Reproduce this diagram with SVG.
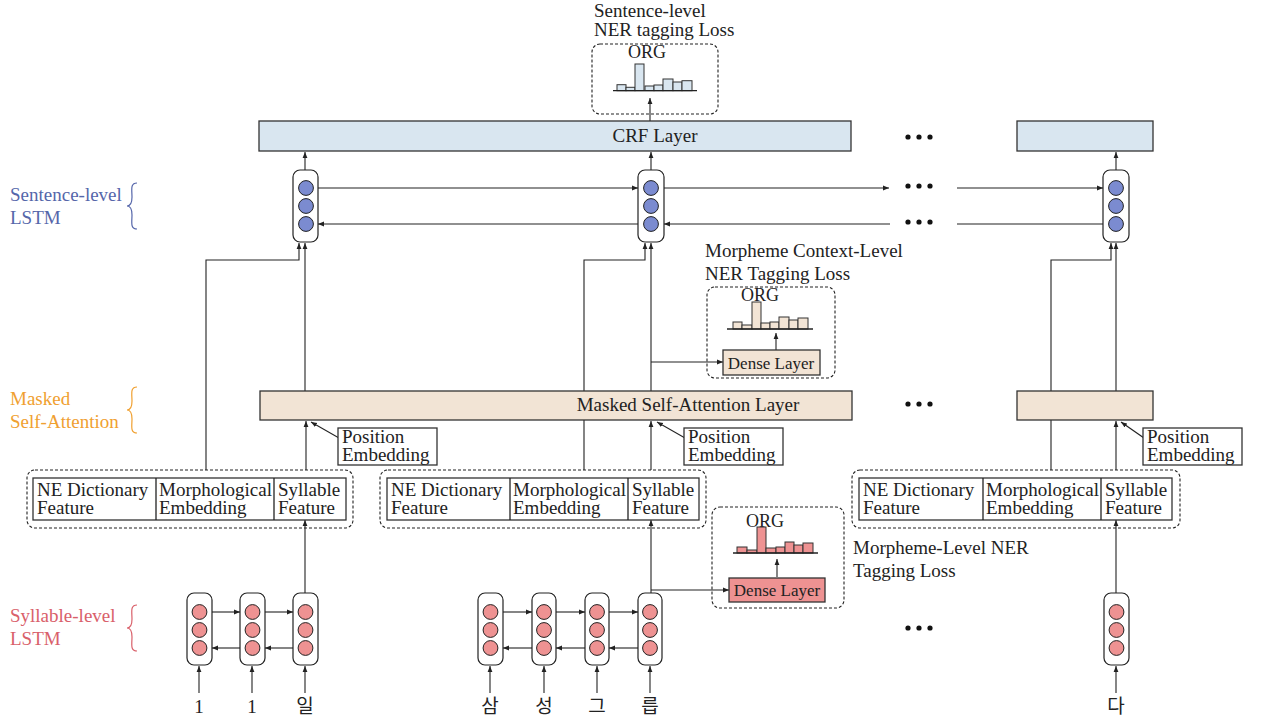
<svg xmlns="http://www.w3.org/2000/svg" width="1265" height="721" viewBox="0 0 1265 721">
  <style>
    text { font-family: "Liberation Serif", "Times New Roman", serif; font-size: 19px; fill: #222; }
    .ko { font-family: "Liberation Serif", "Noto Sans CJK KR", serif; }
    .org { font-size: 18px; text-anchor: middle; }
    .mid { text-anchor: middle; }
    .wire { stroke: #222; stroke-width: 1.1; fill: none; }
    .arr { marker-end: url(#ah); }
    .cell { fill: #fff; stroke: #222; stroke-width: 1.2; }
    .blue { fill: #7b8bd0; stroke: #222; stroke-width: 1; }
    .red { fill: #ee9292; stroke: #222; stroke-width: 1; }
    .crf { fill: #d9e6f0; stroke: #333; stroke-width: 1.3; }
    .att { fill: #f2e4d5; stroke: #333; stroke-width: 1.3; }
    .dense-b { fill: #f2e4d5; stroke: #333; stroke-width: 1.3; }
    .dense-r { fill: #ee9292; stroke: #333; stroke-width: 1.3; }
    .box { fill: #fff; stroke: #333; stroke-width: 1.3; }
    .dash { fill: none; stroke: #222; stroke-width: 1.1; stroke-dasharray: 3 2; }
    .base { stroke: #222; stroke-width: 1.3; }
    .bar { stroke: #333; stroke-width: 1; }
    .dot { fill: #111; }
    .brace { fill: none; stroke-width: 1.2; }
  </style>
  <defs>
    <marker id="ah" viewBox="0 0 10 10" refX="10" refY="5" markerUnits="userSpaceOnUse" markerWidth="6" markerHeight="6" orient="auto">
      <path d="M0,1 L10,5 L0,9 z" fill="#222"/>
    </marker>
    <g id="dots3">
      <circle cx="0" cy="0" r="2.6" class="dot"/>
      <circle cx="11" cy="0" r="2.6" class="dot"/>
      <circle cx="22" cy="0" r="2.6" class="dot"/>
    </g>
  </defs>

  <!-- layer labels -->
  <g id="label-sentence">
    <text x="10" y="201" style="fill:#5566aa">Sentence-level</text>
    <text x="10" y="224" style="fill:#5566aa">LSTM</text>
    <path class="brace" stroke="#5566aa" d="M137,183 C130,183 132,190 132,197 C132,203 131,206 127,206 C131,206 132,209 132,215 C132,222 130,229 137,229"/>
  </g>
  <g id="label-attention">
    <text x="10" y="405" style="fill:#f0a030">Masked</text>
    <text x="10" y="428" style="fill:#f0a030">Self-Attention</text>
    <path class="brace" stroke="#f0a030" d="M137,387 C130,387 132,394 132,401 C132,407 131,410 127,410 C131,410 132,413 132,419 C132,426 130,433 137,433"/>
  </g>
  <g id="label-syllable">
    <text x="10" y="622" style="fill:#d9606a">Syllable-level</text>
    <text x="10" y="645" style="fill:#d9606a">LSTM</text>
    <path class="brace" stroke="#d9606a" d="M137,605 C130,605 132,612 132,619 C132,625 131,628 127,628 C131,628 132,631 132,637 C132,644 130,651 137,651"/>
  </g>

  <!-- connectors -->
  <g id="connectors">
    <!-- inputs into syllable cells -->
    <line class="wire arr" x1="199" y1="693" x2="199" y2="666"/>
    <line class="wire arr" x1="252" y1="693" x2="252" y2="666"/>
    <line class="wire arr" x1="305" y1="693" x2="305" y2="666"/>
    <line class="wire arr" x1="490" y1="693" x2="490" y2="666"/>
    <line class="wire arr" x1="544" y1="693" x2="544" y2="666"/>
    <line class="wire arr" x1="597" y1="693" x2="597" y2="666"/>
    <line class="wire arr" x1="650" y1="693" x2="650" y2="666"/>
    <line class="wire arr" x1="1116" y1="693" x2="1116" y2="666"/>

    <!-- syllable LSTM recurrences -->
    <line class="wire arr" x1="212" y1="612" x2="240" y2="612"/>
    <line class="wire arr" x1="265" y1="612" x2="293" y2="612"/>
    <line class="wire arr" x1="240" y1="648" x2="212" y2="648"/>
    <line class="wire arr" x1="293" y1="648" x2="265" y2="648"/>
    <line class="wire arr" x1="503" y1="612" x2="532" y2="612"/>
    <line class="wire arr" x1="556" y1="612" x2="585" y2="612"/>
    <line class="wire arr" x1="609" y1="612" x2="638" y2="612"/>
    <line class="wire arr" x1="532" y1="648" x2="503" y2="648"/>
    <line class="wire arr" x1="585" y1="648" x2="556" y2="648"/>
    <line class="wire arr" x1="638" y1="648" x2="609" y2="648"/>

    <!-- syllable LSTM to feature groups -->
    <line class="wire arr" x1="305" y1="593" x2="305" y2="520"/>
    <line class="wire arr" x1="651" y1="593" x2="651" y2="520"/>
    <line class="wire arr" x1="1116" y1="593" x2="1116" y2="520"/>
    <polyline class="wire arr" points="651,590 729,590"/>
    <line class="wire arr" x1="777" y1="577" x2="777" y2="559"/>

    <!-- feature groups to attention -->
    <line class="wire arr" x1="306" y1="470" x2="306" y2="421"/>
    <line class="wire arr" x1="651" y1="470" x2="651" y2="421"/>
    <line class="wire arr" x1="1116" y1="470" x2="1116" y2="421"/>
    <line class="wire arr" x1="339" y1="438" x2="311" y2="422"/>
    <line class="wire arr" x1="685" y1="438" x2="657" y2="422"/>
    <line class="wire arr" x1="1144" y1="438" x2="1121" y2="422"/>

    <!-- feature groups skipping to sentence LSTM -->
    <polyline class="wire arr" points="206,470 206,260 299,260 299,243"/>
    <polyline class="wire arr" points="584,470 584,260 645,260 645,243"/>
    <polyline class="wire arr" points="1051,470 1051,260 1111,260 1111,243"/>

    <!-- attention to sentence LSTM -->
    <line class="wire arr" x1="305" y1="391" x2="305" y2="243"/>
    <line class="wire arr" x1="651" y1="391" x2="651" y2="243"/>
    <line class="wire arr" x1="1116" y1="391" x2="1116" y2="243"/>
    <polyline class="wire arr" points="651,362 723,362"/>
    <line class="wire arr" x1="776" y1="350" x2="776" y2="333"/>

    <!-- sentence LSTM recurrences -->
    <line class="wire arr" x1="318" y1="188" x2="638" y2="188"/>
    <line class="wire arr" x1="664" y1="188" x2="889" y2="188"/>
    <line class="wire arr" x1="957" y1="188" x2="1103" y2="188"/>
    <line class="wire arr" x1="638" y1="224" x2="318" y2="224"/>
    <line class="wire arr" x1="890" y1="224" x2="664" y2="224"/>
    <line class="wire" x1="1103" y1="224" x2="957" y2="224"/>

    <!-- sentence LSTM to CRF -->
    <line class="wire arr" x1="305" y1="170" x2="305" y2="152"/>
    <line class="wire arr" x1="651" y1="170" x2="651" y2="152"/>
    <line class="wire arr" x1="1116" y1="170" x2="1116" y2="152"/>
    <line class="wire arr" x1="650" y1="121" x2="650" y2="98"/>
  </g>

  <!-- ellipses -->
  <g id="ellipses">
    <use href="#dots3" x="908" y="137"/>
    <use href="#dots3" x="908" y="186"/>
    <use href="#dots3" x="908" y="222"/>
    <use href="#dots3" x="908" y="404"/>
    <use href="#dots3" x="908" y="628"/>
  </g>

  <!-- sentence-level loss -->
  <g id="sentence-loss">
    <text x="594" y="17">Sentence-level</text>
    <text x="594" y="36">NER tagging Loss</text>
    <rect class="dash" x="592" y="44" width="126" height="70" rx="8"/>
    <text class="org" x="647" y="58">ORG</text>
    <g style="fill:#d9e6f0">
      <rect class="bar" x="617" y="84.7" width="9" height="6"/>
      <rect class="bar" x="626" y="87.3" width="9" height="3.4"/>
      <rect class="bar" x="635" y="64" width="9" height="26.7"/>
      <rect class="bar" x="645" y="86" width="9" height="4.7"/>
      <rect class="bar" x="654" y="85" width="9" height="5.7"/>
      <rect class="bar" x="663" y="79" width="10" height="11.7"/>
      <rect class="bar" x="673" y="82" width="9" height="8.7"/>
      <rect class="bar" x="682" y="80.7" width="10" height="10"/>
    </g>
    <line class="base" x1="613" y1="90.7" x2="697" y2="90.7"/>
  </g>

  <!-- CRF layer -->
  <g id="crf">
    <rect class="crf" x="259" y="121" width="592" height="30"/>
    <text class="mid" x="655" y="142">CRF Layer</text>
  </g>
  <g id="crf-right">
    <rect class="crf" x="1017" y="121" width="136" height="30"/>
  </g>

  <!-- sentence-level LSTM cells -->
  <g id="sent-cell-1">
    <rect class="cell" x="293" y="170" width="25" height="72" rx="7"/>
    <circle class="blue" cx="306" cy="188" r="7.4"/>
    <circle class="blue" cx="306" cy="206" r="7.4"/>
    <circle class="blue" cx="306" cy="224" r="7.4"/>
  </g>
  <g id="sent-cell-2">
    <rect class="cell" x="638" y="170" width="26" height="72" rx="7"/>
    <circle class="blue" cx="651" cy="188" r="7.4"/>
    <circle class="blue" cx="651" cy="206" r="7.4"/>
    <circle class="blue" cx="651" cy="224" r="7.4"/>
  </g>
  <g id="sent-cell-3">
    <rect class="cell" x="1103" y="170" width="26" height="72" rx="7"/>
    <circle class="blue" cx="1116" cy="188" r="7.4"/>
    <circle class="blue" cx="1116" cy="206" r="7.4"/>
    <circle class="blue" cx="1116" cy="224" r="7.4"/>
  </g>

  <!-- morpheme context-level loss -->
  <g id="context-loss">
    <text x="705" y="257">Morpheme Context-Level</text>
    <text x="705" y="280">NER Tagging Loss</text>
    <rect class="dash" x="707" y="287" width="128" height="91" rx="8"/>
    <text class="org" x="760" y="301">ORG</text>
    <g style="fill:#f2e4d5">
      <rect class="bar" x="733" y="322" width="9" height="7"/>
      <rect class="bar" x="742" y="325" width="10" height="4"/>
      <rect class="bar" x="752" y="302" width="9" height="27"/>
      <rect class="bar" x="761" y="323" width="9" height="6"/>
      <rect class="bar" x="770" y="322" width="9" height="7"/>
      <rect class="bar" x="779" y="317" width="10" height="12"/>
      <rect class="bar" x="789" y="320" width="9" height="9"/>
      <rect class="bar" x="798" y="318" width="10" height="11"/>
    </g>
    <line class="base" x1="727" y1="329" x2="813" y2="329"/>
    <rect class="dense-b" x="723" y="350" width="97" height="25"/>
    <text class="mid" x="771" y="369" style="font-size:17px">Dense Layer</text>
  </g>

  <!-- masked self-attention -->
  <g id="attention">
    <rect class="att" x="260" y="391" width="592" height="29"/>
    <text class="mid" x="688" y="411">Masked Self-Attention Layer</text>
  </g>
  <g id="attention-right">
    <rect class="att" x="1017" y="391" width="136" height="29"/>
  </g>

  <!-- position embeddings -->
  <g id="pos-emb-1">
    <rect class="box" x="338" y="428" width="99" height="37"/>
    <text x="342" y="443">Position</text>
    <text x="342" y="461">Embedding</text>
  </g>
  <g id="pos-emb-2">
    <rect class="box" x="684" y="428" width="99" height="37"/>
    <text x="688" y="443">Position</text>
    <text x="688" y="461">Embedding</text>
  </g>
  <g id="pos-emb-3">
    <rect class="box" x="1143" y="428" width="99" height="37"/>
    <text x="1147" y="443">Position</text>
    <text x="1147" y="461">Embedding</text>
  </g>

  <!-- feature groups -->
  <g id="features-1">
    <rect class="dash" x="27" y="470" width="326" height="58" rx="8"/>
    <rect class="box" x="33" y="478" width="313" height="42"/>
    <line class="base" x1="156" y1="478" x2="156" y2="520"/>
    <line class="base" x1="274" y1="478" x2="274" y2="520"/>
    <text x="37" y="496">NE Dictionary</text>
    <text x="37" y="514">Feature</text>
    <text x="159" y="496">Morphological</text>
    <text x="159" y="514">Embedding</text>
    <text x="278" y="496">Syllable</text>
    <text x="278" y="514">Feature</text>
  </g>
  <g id="features-2">
    <rect class="dash" x="380" y="470" width="326" height="58" rx="8"/>
    <rect class="box" x="387" y="478" width="312" height="42"/>
    <line class="base" x1="510" y1="478" x2="510" y2="520"/>
    <line class="base" x1="628" y1="478" x2="628" y2="520"/>
    <text x="391" y="496">NE Dictionary</text>
    <text x="391" y="514">Feature</text>
    <text x="513" y="496">Morphological</text>
    <text x="513" y="514">Embedding</text>
    <text x="632" y="496">Syllable</text>
    <text x="632" y="514">Feature</text>
  </g>
  <g id="features-3">
    <rect class="dash" x="852" y="470" width="328" height="58" rx="8"/>
    <rect class="box" x="859" y="478" width="313" height="42"/>
    <line class="base" x1="983" y1="478" x2="983" y2="520"/>
    <line class="base" x1="1101" y1="478" x2="1101" y2="520"/>
    <text x="863" y="496">NE Dictionary</text>
    <text x="863" y="514">Feature</text>
    <text x="986" y="496">Morphological</text>
    <text x="986" y="514">Embedding</text>
    <text x="1105" y="496">Syllable</text>
    <text x="1105" y="514">Feature</text>
  </g>

  <!-- morpheme-level loss -->
  <g id="morpheme-loss">
    <rect class="dash" x="712" y="507" width="132" height="101" rx="8"/>
    <text class="org" x="765" y="527">ORG</text>
    <g style="fill:#ee9292">
      <rect class="bar" x="737" y="547" width="10" height="6"/>
      <rect class="bar" x="747" y="550" width="10" height="3"/>
      <rect class="bar" x="757" y="527" width="9" height="26"/>
      <rect class="bar" x="766" y="548" width="10" height="5"/>
      <rect class="bar" x="776" y="547" width="9" height="6"/>
      <rect class="bar" x="785" y="542" width="9" height="11"/>
      <rect class="bar" x="794" y="545" width="9" height="8"/>
      <rect class="bar" x="803" y="543" width="10" height="10"/>
    </g>
    <line class="base" x1="733" y1="553" x2="818" y2="553"/>
    <rect class="dense-r" x="729" y="578" width="96" height="24"/>
    <text class="mid" x="777" y="596" style="font-size:17px">Dense Layer</text>
    <text x="853" y="554">Morpheme-Level NER</text>
    <text x="853" y="577">Tagging Loss</text>
  </g>

  <!-- syllable-level LSTM cells -->
  <g id="syl-cell-1">
    <rect class="cell" x="187" y="593" width="25" height="72" rx="7"/>
    <circle class="red" cx="199.5" cy="612" r="7.4"/>
    <circle class="red" cx="199.5" cy="630" r="7.4"/>
    <circle class="red" cx="199.5" cy="648" r="7.4"/>
  </g>
  <g id="syl-cell-2">
    <rect class="cell" x="240" y="593" width="25" height="72" rx="7"/>
    <circle class="red" cx="252.5" cy="612" r="7.4"/>
    <circle class="red" cx="252.5" cy="630" r="7.4"/>
    <circle class="red" cx="252.5" cy="648" r="7.4"/>
  </g>
  <g id="syl-cell-3">
    <rect class="cell" x="293" y="593" width="25" height="72" rx="7"/>
    <circle class="red" cx="305.5" cy="612" r="7.4"/>
    <circle class="red" cx="305.5" cy="630" r="7.4"/>
    <circle class="red" cx="305.5" cy="648" r="7.4"/>
  </g>
  <g id="syl-cell-4">
    <rect class="cell" x="478" y="593" width="25" height="72" rx="7"/>
    <circle class="red" cx="490.5" cy="612" r="7.4"/>
    <circle class="red" cx="490.5" cy="630" r="7.4"/>
    <circle class="red" cx="490.5" cy="648" r="7.4"/>
  </g>
  <g id="syl-cell-5">
    <rect class="cell" x="532" y="593" width="24" height="72" rx="7"/>
    <circle class="red" cx="544" cy="612" r="7.4"/>
    <circle class="red" cx="544" cy="630" r="7.4"/>
    <circle class="red" cx="544" cy="648" r="7.4"/>
  </g>
  <g id="syl-cell-6">
    <rect class="cell" x="585" y="593" width="24" height="72" rx="7"/>
    <circle class="red" cx="597" cy="612" r="7.4"/>
    <circle class="red" cx="597" cy="630" r="7.4"/>
    <circle class="red" cx="597" cy="648" r="7.4"/>
  </g>
  <g id="syl-cell-7">
    <rect class="cell" x="638" y="593" width="24" height="72" rx="7"/>
    <circle class="red" cx="650" cy="612" r="7.4"/>
    <circle class="red" cx="650" cy="630" r="7.4"/>
    <circle class="red" cx="650" cy="648" r="7.4"/>
  </g>
  <g id="syl-cell-8">
    <rect class="cell" x="1104" y="593" width="25" height="72" rx="7"/>
    <circle class="red" cx="1116.5" cy="612" r="7.4"/>
    <circle class="red" cx="1116.5" cy="630" r="7.4"/>
    <circle class="red" cx="1116.5" cy="648" r="7.4"/>
  </g>

  <!-- input syllables -->
  <g id="inputs">
    <text class="ko mid" x="199" y="713">1</text>
    <text class="ko mid" x="252" y="713">1</text>
    <text class="ko mid" x="305" y="713">일</text>
    <text class="ko mid" x="490" y="713">삼</text>
    <text class="ko mid" x="544" y="713">성</text>
    <text class="ko mid" x="597" y="713">그</text>
    <text class="ko mid" x="650" y="713">릅</text>
    <text class="ko mid" x="1116" y="713">다</text>
  </g>
</svg>
